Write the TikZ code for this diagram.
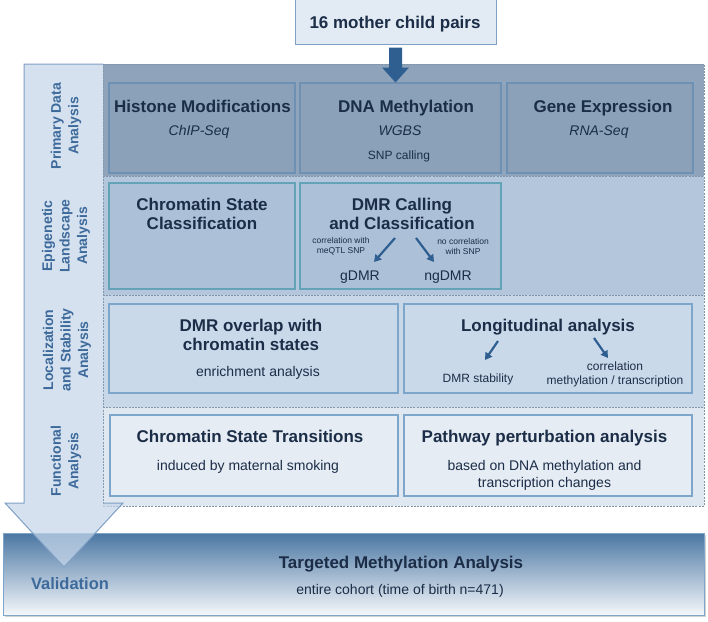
\documentclass[tikz,border=0pt]{standalone}
\usepackage{fontspec}
\setmainfont{Liberation Sans}
\usetikzlibrary{arrows.meta,calc,shadows}
\definecolor{navy}{HTML}{1B2D47}
\definecolor{lbl}{HTML}{3D6A9B}
\definecolor{rowA}{HTML}{8FA4BA}
\definecolor{rowB}{HTML}{B3C6DC}
\definecolor{rowC}{HTML}{C9D8E9}
\definecolor{rowD}{HTML}{DFE7F0}
\definecolor{boxA}{HTML}{8BA1B9}
\definecolor{boxB}{HTML}{ACC0D8}
\definecolor{boxC}{HTML}{CAD9EA}
\definecolor{boxD}{HTML}{E6ECF4}
\definecolor{edgeA}{HTML}{6D90B3}
\definecolor{edgeB}{HTML}{63A3B7}
\definecolor{edgeC}{HTML}{7EA6CA}
\definecolor{dashc}{HTML}{7F93A9}
\definecolor{colfill}{HTML}{C5D6EA}
\definecolor{coledge}{HTML}{7FA0C4}
\definecolor{arrc}{HTML}{2F5F90}
\definecolor{topfill}{HTML}{E2EAF4}
\definecolor{bandtop}{HTML}{4B77A3}
\definecolor{bandbot}{HTML}{F4F7FA}
\tikzset{
  every node/.style={inner sep=0pt, outer sep=0pt, text=navy, align=center},
  boxa/.style={draw=edgeA, fill=boxA, line width=1.2pt},
  boxb/.style={draw=edgeB, fill=boxB, line width=1.2pt},
  boxc/.style={draw=edgeC, fill=boxC, line width=1.2pt},
  boxd/.style={draw=edgeC, fill=boxD, line width=1.2pt},
  ttl/.style={font=\fontsize{17}{19}\selectfont\bfseries, anchor=base},
  sub/.style={font=\fontsize{14}{17}\selectfont\itshape, anchor=base},
  txt/.style={font=\fontsize{14}{16.5}\selectfont, anchor=base},
  sml/.style={font=\fontsize{12}{14}\selectfont, anchor=base},
  tiny/.style={font=\fontsize{8.5}{10}\selectfont, anchor=base},
  side/.style={font=\fontsize{14}{17.5}\selectfont\bfseries, text=lbl, rotate=90},
  dashln/.style={draw=dashc, line width=0.8pt, dash pattern=on 2pt off 1.2pt},
  thinarr/.style={draw=arrc, line width=2.2pt, -{Triangle[length=7pt,width=8pt]}},
}
\begin{document}
\begin{tikzpicture}[x=1pt,y=-1pt]
\useasboundingbox (0,0) rectangle (708,621);
\fill[white] (0,0) rectangle (708,621);

% top box
\node[draw=coledge, fill=topfill, line width=1pt, minimum width=201, minimum height=50] (top) at (395.5,19.5) {};
\node[font=\fontsize{17}{20}\selectfont\bfseries, anchor=base] (topT) at (395,28) {16 mother child pairs};

% panel rows
\fill[rowA] (103,64) rectangle (704,176);
\fill[rowB] (103,176) rectangle (704,295);
\fill[rowC] (103,295) rectangle (704,407);
\fill[rowD] (103,407) rectangle (704,506);
\draw[dashln] (103,64) -- (704,64) -- (704,506) -- (103,506);
\draw[dashln] (103,176) -- (704,176);
\draw[dashln] (103,295) -- (704,295);
\draw[dashln] (103,407) -- (704,407);

% row 1 boxes
\node[boxa, minimum width=186, minimum height=90] (hist) at (202,128) {};
\node[boxa, minimum width=201, minimum height=90] (dna) at (400.5,128) {};
\node[boxa, minimum width=186, minimum height=90] (gene) at (600,128) {};
\node[ttl] (histT) at (202.5,112) {Histone Modifications};
\node[sub] (histS) at (199,135) {ChIP-Seq};
\node[ttl] (dnaT) at (406,112) {DNA Methylation};
\node[sub] (dnaS) at (400,135) {WGBS};
\node[sml] (dnaX) at (399,159) {SNP calling};
\node[ttl] (geneT) at (603,112) {Gene Expression};
\node[sub] (geneS) at (599,135) {RNA-Seq};

% row 2 boxes
\node[boxb, minimum width=186, minimum height=106] (chrom) at (202,236) {};
\node[boxb, minimum width=201, minimum height=106] (dmr) at (400.5,236) {};
\node[ttl] (chromT) at (202,229) {Chromatin State\\Classification};
\node[ttl] (dmrT) at (402,229) {DMR Calling\\and Classification};
\node[tiny] (corrL) at (341,253) {correlation with\\meQTL SNP};
\node[tiny] (corrR) at (463,254) {no correlation\\with SNP};
\node[txt] (gdmr) at (360,280) {gDMR};
\node[txt] (ngdmr) at (448,280) {ngDMR};
\coordinate (a1s) at (395,238);
\coordinate (a1e) at (374,262);
\coordinate (a2s) at (416,238);
\coordinate (a2e) at (434,262);
\draw[thinarr] (a1s) -- (a1e);
\draw[thinarr] (a2s) -- (a2e);

% row 3 boxes
\node[boxc, minimum width=289, minimum height=89] (ovl) at (253.5,348.5) {};
\node[boxc, minimum width=288, minimum height=89] (lon) at (548,348.5) {};
\node[ttl] (ovlT) at (251,350) {DMR overlap with\\chromatin states};
\node[txt] (ovlS) at (258,376) {enrichment analysis};
\node[ttl] (lonT) at (548,331) {Longitudinal analysis};
\node[sml] (stab) at (478,382) {DMR stability};
\node[sml] (corr) at (615,384) {correlation\\methylation / transcription};
\coordinate (b1s) at (498,341);
\coordinate (b1e) at (485,360);
\coordinate (b2s) at (594,338);
\coordinate (b2e) at (608,358);
\draw[thinarr] (b1s) -- (b1e);
\draw[thinarr] (b2s) -- (b2e);

% row 4 boxes
\node[boxd, minimum width=288, minimum height=81] (trans) at (254,455.5) {};
\node[boxd, minimum width=288, minimum height=81] (path) at (548,455.5) {};
\node[ttl] (transT) at (250,442) {Chromatin State Transitions};
\node[txt] (transS) at (248,470) {induced by maternal smoking};
\node[ttl] (pathT) at (544.5,442) {Pathway perturbation analysis};
\node[txt] (pathS) at (544.5,487) {based on DNA methylation and\\transcription changes};

% panel vertical dashed separator
\draw[dashln] (103,64) -- (103,506);

% top block arrow
\coordinate (ta) at ($(top.south)+(0,3)$);
\fill[arrc] ($(ta)+(-6.5,0)$) -- ($(ta)+(6.5,0)$) -- ($(ta)+(6.5,20)$) -- ($(ta)+(13.5,20)$) -- ($(ta)+(0,35)$) -- ($(ta)+(-13.5,20)$) -- ($(ta)+(-6.5,20)$) -- cycle;

% bottom band
\node[draw=edgeC, line width=1pt, top color=bandtop, bottom color=bandbot, minimum width=701, minimum height=82, drop shadow={opacity=0.35, shadow xshift=1.5pt, shadow yshift=-1.5pt}] (band) at (353.5,574) {};

% big left arrow
\fill[colfill, fill opacity=0.72] (24,64) -- (103,64) -- (103,503) -- (123,503) -- (64,567) -- (5,503) -- (24,503) -- cycle;
\draw[coledge, line width=1pt] (103,503) -- (123,503) -- (64,567) -- (5,503) -- (24,503) -- (24,64) -- (103,64);

\node[side] (s1) at (66,126) {Primary Data\\Analysis};
\node[side] (s2) at (66,236) {Epigenetic\\Landscape\\Analysis};
\node[side] (s3) at (67,350) {Localization\\and Stability\\Analysis};
\node[side] (s4) at (66,461) {Functional\\Analysis};

\node[font=\fontsize{16.5}{20}\selectfont\bfseries, text=lbl, anchor=base] (val) at (70,589) {Validation};
\node[ttl] (bandT) at (401,568) {Targeted Methylation Analysis};
\node[txt] (bandS) at (400,594) {entire cohort (time of birth n=471)};
\end{tikzpicture}
\end{document}
